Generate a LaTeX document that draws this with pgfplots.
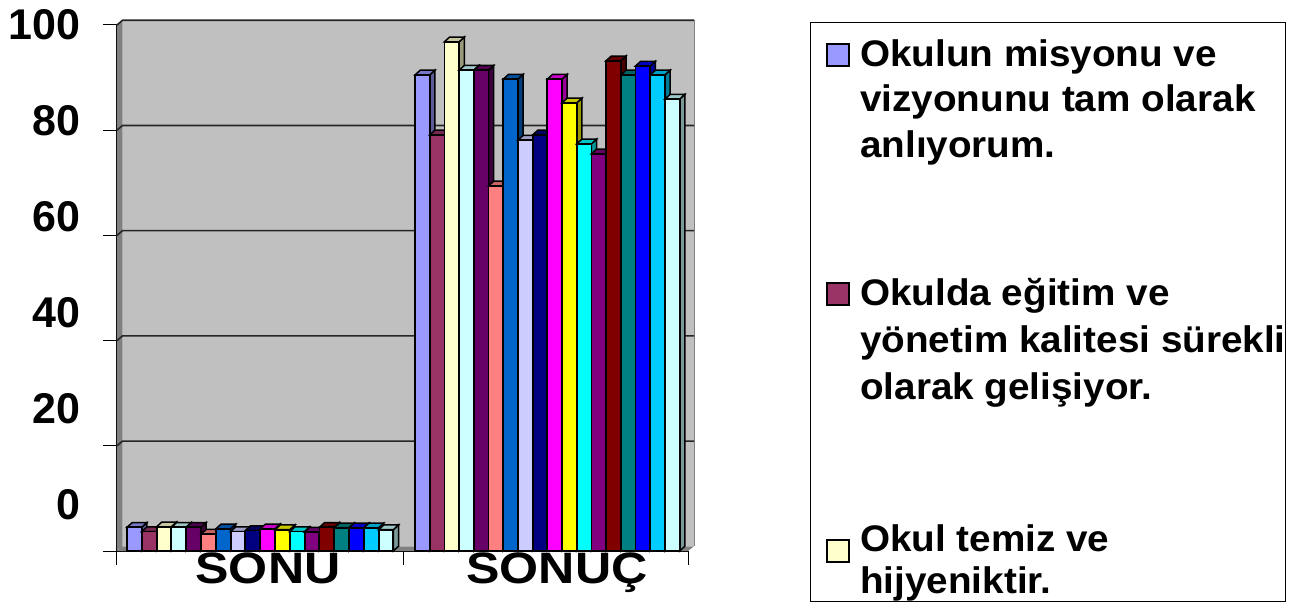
\documentclass[border=0pt]{standalone}
\usepackage{pgfplots}
\pgfplotsset{compat=1.18}
\usepackage{fontspec}
\setmainfont{Liberation Sans}
\newfontfamily\lab[FakeStretch=1.14]{Liberation Sans Bold}
\newfontfamily\leg[FakeStretch=1.045]{Liberation Sans Bold}
\definecolor{wall}{HTML}{C0C0C0}
\definecolor{wallD}{HTML}{808080}
\definecolor{a1}{HTML}{9999FF}\definecolor{a2}{HTML}{993366}\definecolor{a3}{HTML}{FFFFCC}
\definecolor{a4}{HTML}{CCFFFF}\definecolor{a5}{HTML}{660066}\definecolor{a6}{HTML}{FF8080}
\definecolor{a7}{HTML}{0066CC}\definecolor{a8}{HTML}{CCCCFF}\definecolor{a9}{HTML}{000080}
\definecolor{a10}{HTML}{FF00FF}\definecolor{a11}{HTML}{FFFF00}\definecolor{a12}{HTML}{00FFFF}
\definecolor{a13}{HTML}{800080}\definecolor{a14}{HTML}{800000}\definecolor{a15}{HTML}{008080}
\definecolor{a16}{HTML}{0000FF}\definecolor{a17}{HTML}{00CCFF}\definecolor{a18}{HTML}{CCFFFF}
% one 3-D bar: left edge (px), value, colour
\newcommand{\tb}[3]{%
  \pgfmathsetmacro{\xa}{#1}\pgfmathsetmacro{\xb}{#1+14.7}\pgfmathsetmacro{\xc}{#1+19.9}%
  \pgfmathsetmacro{\xm}{#1+7.35}\pgfmathsetmacro{\xt}{#1+5.2}%
  \pgfmathsetmacro{\yt}{#2+0.9}%
  \edef\tmp{%
  \noexpand\addplot[draw=black,line width=1.5pt,fill=#3!60!black] coordinates {(\xb,0) (\xc,0.9) (\xc,\yt) (\xb,#2)} --cycle;
  \noexpand\addplot[draw=black,line width=1.5pt,fill=#3!78!black] coordinates {(\xa,#2) (\xt,\yt) (\xc,\yt) (\xb,#2)} --cycle;
  \noexpand\addplot[ybar,bar width=14.7pt,bar shift=0pt,draw=black,line width=1.8pt,fill=#3] coordinates {(\xm,#2)};
  }\tmp}
\newcommand{\gl}[1]{%
  \pgfmathsetmacro{\yt}{#1+0.9}%
  \edef\tmp{\noexpand\addplot[draw=black!85,line width=1.6pt] coordinates {(117,#1) (122.5,\yt) (694,\yt)};}\tmp}
\begin{document}
\begin{tikzpicture}[x=1pt,y=1pt]
\useasboundingbox (0,0) rectangle (1296,603);
\begin{axis}[
  at={(117pt,52pt)},anchor=south west,
  scale only axis,width=571pt,height=526pt,
  xmin=117,xmax=688,ymin=0,ymax=100,clip=false,
  axis x line*=bottom,axis y line*=left,
  axis line style={-,black,line width=2pt},
  tick style={black,line width=1pt},
  major tick length=14pt,
  tick align=outside,
  xtick={117,403,688},xticklabels={},
  extra x ticks={268,557},
  extra x tick labels={SONU,SONUÇ},
  extra x tick style={major tick length=0pt,
    xticklabel style={font=\lab\fontsize{44}{44}\selectfont,yshift=2pt}},
  ytick={0,20,40,60,80,100},
  /pgf/number format/assume math mode=true,
  yticklabel style={font=\bfseries\fontsize{43}{43}\selectfont,
    xshift=-19pt,yshift=46pt-9.2pt*\ticknum},
]
% walls
\addplot[draw=none,fill=wall] coordinates {(122.5,0.9) (694,0.9) (694,100.9) (122.5,100.9)} --cycle;
\addplot[draw=none,fill=wallD] coordinates {(117,0) (122.5,0.9) (122.5,100.9) (117,100)} --cycle;
\addplot[draw=none,fill=wallD] coordinates {(117,0) (688,0) (694,0.9) (122.5,0.9)} --cycle;
\addplot[draw=wallD,line width=1pt] coordinates {(694,0.9) (694,100.9)};
\gl{20}\gl{40}\gl{60}\gl{80}\gl{100}
% SONU
\tb{127}{4.5}{a1}\tb{141.8}{3.7}{a2}\tb{156.6}{4.6}{a3}\tb{171.4}{4.5}{a4}\tb{186.2}{4.5}{a5}\tb{201}{3.2}{a6}
\tb{215.8}{4.2}{a7}\tb{230.6}{3.7}{a8}\tb{245.4}{3.9}{a9}\tb{260.2}{4.2}{a10}\tb{275}{4.05}{a11}\tb{289.8}{3.7}{a12}
\tb{304.6}{3.6}{a13}\tb{319.4}{4.5}{a14}\tb{334.2}{4.4}{a15}\tb{349}{4.4}{a16}\tb{363.8}{4.4}{a17}\tb{378.6}{4.05}{a18}
% SONUÇ
\tb{415}{90.5}{a1}\tb{429.7}{79.1}{a2}\tb{444.4}{96.8}{a3}\tb{459.1}{91.4}{a4}\tb{473.8}{91.4}{a5}\tb{488.5}{69.4}{a6}
\tb{503.2}{89.7}{a7}\tb{517.9}{78.1}{a8}\tb{532.6}{79.1}{a9}\tb{547.3}{89.7}{a10}\tb{562}{85.2}{a11}\tb{576.7}{77.4}{a12}
\tb{591.4}{75.5}{a13}\tb{606.1}{93.2}{a14}\tb{620.8}{90.5}{a15}\tb{635.5}{92.2}{a16}\tb{650.2}{90.5}{a17}\tb{664.9}{85.9}{a18}
\end{axis}
% legend
\draw[black,line width=1pt] (810,580) rectangle (1285,2);
\draw[black,line width=1.8pt,fill=a1] (827,537) rectangle (849,559);
\draw[black,line width=1.8pt,fill=a2] (827,298) rectangle (849,320);
\draw[black,line width=1.8pt,fill=a3] (827,41) rectangle (849,63);
\begin{scope}[every node/.style={anchor=base west,inner sep=0pt,font=\leg\fontsize{37}{37}\selectfont}]
\node at (860,536) {Okulun misyonu ve};
\node at (860,491) {vizyonunu tam olarak};
\node at (860,445) {anlıyorum.};
\node at (860,297) {Okulda eğitim ve};
\node at (860,250) {yönetim kalitesi sürekli};
\node at (860,204) {olarak gelişiyor.};
\node at (860,52) {Okul temiz ve};
\node at (860,10) {hijyeniktir.};
\end{scope}
\end{tikzpicture}
\end{document}
